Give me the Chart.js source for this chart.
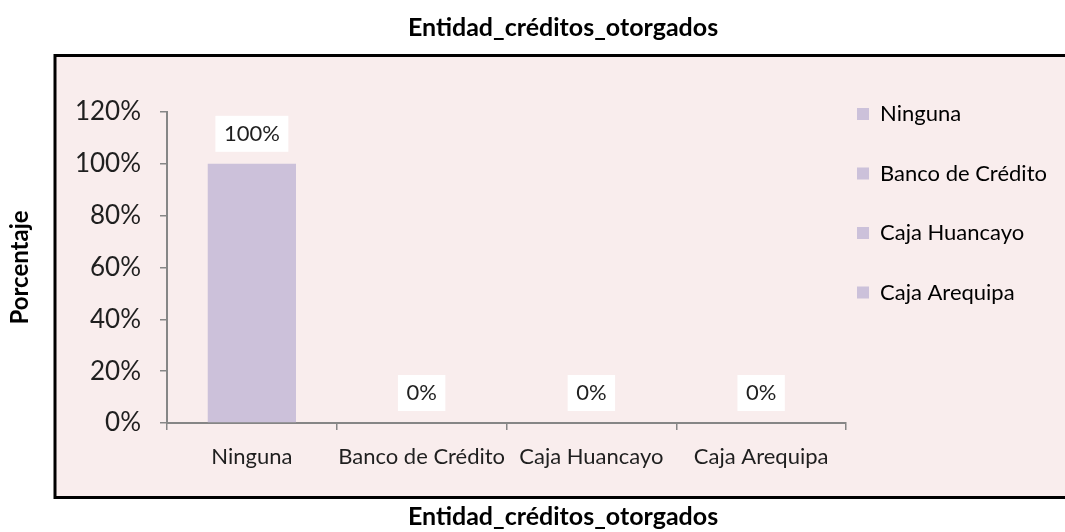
<!DOCTYPE html>
<html>
<head>
<meta charset="utf-8">
<script src="https://cdn.jsdelivr.net/npm/chart.js@4.4.0/dist/chart.umd.min.js"></script>
<style>
    html, body { margin: 0; padding: 0; background: #fff; overflow: hidden; }
    #wrap { width: 1126px; height: 532px; }
</style>
</head>
<body>
<div id="wrap"><canvas id="graph"></canvas></div>
<script>
'use strict';

const categories = ['Ninguna', 'Banco de Crédito', 'Caja Huancayo', 'Caja Arequipa'];
const percentages = [100, 0, 0, 0];
const yTicks = [0, 20, 40, 60, 80, 100, 120];
const chartTitle = 'Entidad_créditos_otorgados';
const yTitle = 'Porcentaje';

const barColor = '#ccc1da';
const axisColor = '#868686';
const textColor = '#1f1f1f';
const fontFamily = 'Lato';

// pink panel with black border behind the plot
const frame = {
    id: 'frame',
    beforeDraw(chart) {
        const ctx = chart.ctx;
        ctx.save();
        ctx.fillStyle = '#f9eded';
        ctx.fillRect(55, 55.5, 1065, 442);
        ctx.strokeStyle = '#000';
        ctx.lineWidth = 3;
        ctx.strokeRect(55, 55.5, 1065, 442);
        ctx.restore();
    }
};

// white boxed value labels above each bar
const valueLabels = {
    id: 'valueLabels',
    afterDatasetsDraw(chart) {
        const ctx = chart.ctx;
        ctx.save();
        ctx.font = '22px ' + fontFamily;
        ctx.textAlign = 'center';
        ctx.textBaseline = 'middle';
        chart.getDatasetMeta(0).data.forEach(function (bar, i) {
            const txt = percentages[i] + '%';
            const w = ctx.measureText(txt).width + 17;
            const cy = bar.y - 30;
            ctx.fillStyle = '#fff';
            ctx.fillRect(bar.x - w / 2, cy - 18, w, 36);
            ctx.fillStyle = textColor;
            ctx.fillText(txt, bar.x, cy);
        });
        ctx.restore();
    }
};

// legend sits higher and closer to the plot than chart.js puts it
const legendPlace = {
    id: 'legendPlace',
    beforeInit(chart) {
        const fit = chart.legend.fit;
        chart.legend.fit = function () {
            fit.call(this);
            this.width = 280;
        };
    },
    afterLayout(chart) {
        const lg = chart.legend;
        const h = lg.bottom - lg.top;
        lg.left -= 26.5;
        lg.right -= 26.5;
        lg.top = 65.5;
        lg.bottom = lg.top + h;
    }
};

new Chart('graph', {
    type: 'bar',
    data: {
        labels: categories,
        datasets: [{
            label: yTitle,
            data: percentages,
            backgroundColor: barColor,
            borderWidth: 0,
            barPercentage: 0.52,
            categoryPercentage: 1
        }]
    },
    options: {
        responsive: true,
        maintainAspectRatio: false,
        animation: false,
        devicePixelRatio: 1,
        layout: { padding: 0 },
        plugins: {
            title: {
                display: true,
                text: chartTitle,
                color: '#000',
                font: { family: fontFamily, size: 25, weight: 'bold' },
                padding: { top: 13, bottom: 69 }
            },
            subtitle: {
                display: true,
                position: 'bottom',
                text: chartTitle,
                color: '#000',
                font: { family: fontFamily, size: 25, weight: 'bold' },
                padding: { top: 29, bottom: 0 }
            },
            legend: {
                position: 'right',
                align: 'start',
                onClick: null,
                labels: {
                    boxWidth: 12,
                    boxHeight: 12,
                    padding: 37.5,
                    color: textColor,
                    font: { family: fontFamily, size: 22 },
                    generateLabels: function () {
                        return categories.map(function (c, i) {
                            return {
                                text: c,
                                fillStyle: barColor,
                                strokeStyle: barColor,
                                lineWidth: 0,
                                hidden: false,
                                index: i,
                                datasetIndex: 0
                            };
                        });
                    }
                }
            },
            tooltip: { enabled: false }
        },
        scales: {
            x: {
                afterFit: function (s) { s.height = 50; },
                border: { color: axisColor, width: 2 },
                grid: { drawOnChartArea: false, color: axisColor, tickLength: 7, lineWidth: 1.5, offset: true },
                ticks: {
                    padding: 14,
                    autoSkip: false,
                    maxRotation: 0,
                    minRotation: 0,
                    color: textColor,
                    font: { family: fontFamily, size: 22 }
                }
            },
            y: {
                min: 0,
                max: 120,
                afterBuildTicks: function (s) {
                    s.ticks = yTicks.map(function (v) { return { value: v }; });
                },
                afterFit: function (s) { s.width = 167; },
                border: { color: axisColor, width: 2 },
                grid: { drawOnChartArea: false, color: axisColor, tickLength: 7, lineWidth: 1.5 },
                ticks: {
                    padding: 19,
                    color: textColor,
                    font: { family: fontFamily, size: 26 },
                    callback: function (v) { return v + '%'; }
                },
                title: {
                    display: true,
                    text: yTitle,
                    color: '#000',
                    font: { family: fontFamily, size: 24, weight: 'bold' },
                    padding: { top: 5.6, bottom: 0 }
                }
            }
        }
    },
    plugins: [frame, valueLabels, legendPlace]
});
</script>
</body>
</html>
